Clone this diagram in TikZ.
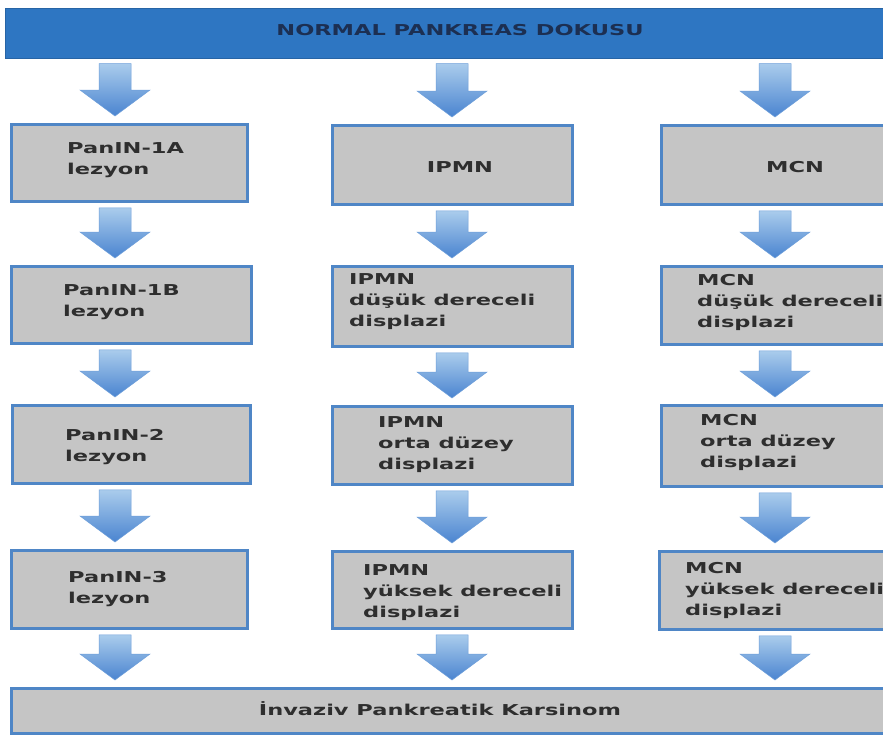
\documentclass[tikz,border=0pt]{standalone}
\usepackage{fontspec}
\usetikzlibrary{calc}
\newfontfamily\lblfont{DejaVu Sans}[FakeStretch=1.5]
\definecolor{barblue}{HTML}{2E76C2}
\definecolor{boxgray}{HTML}{C5C5C5}
\definecolor{boxedge}{HTML}{4F86C6}
\definecolor{arrtop}{HTML}{AACCEC}
\definecolor{arrbot}{HTML}{4A84D0}
\definecolor{arredge}{HTML}{6E9FDA}
\definecolor{titlecol}{HTML}{1C2F52}
\definecolor{txtcol}{HTML}{2E2E2E}
\tikzset{
  box/.style={draw=boxedge, line width=2.8pt, fill=boxgray, inner sep=0pt, anchor=north west},
  topbar/.style={fill=barblue, draw=barblue!85!black, line width=0.6pt, inner sep=0pt, anchor=north west},
  lbl/.style={font=\lblfont\bfseries\fontsize{15}{21}\selectfont, text=txtcol, inner sep=0pt, align=left, anchor=north west},
  ttl/.style={font=\lblfont\bfseries\fontsize{15}{21}\selectfont, text=titlecol, inner sep=0pt, anchor=base},
  flow/.style={top color=arrtop, bottom color=arrbot, draw=arredge, line width=0.5pt}
}
% #1 = x of arrow axis, #2 = node above, #3 = node below
\newcommand\flowarrow[3]{%
  \path let \p1=(#2.south), \p2=(#3.north) in
    coordinate (t) at (#1pt,\y1-5pt)
    coordinate (h) at (#1pt,\y2+7pt);
  \shade[flow] let \p1=(t), \p2=(h) in
    (\x1-16pt,\y1) -- (\x1+16pt,\y1) -- (\x1+16pt,\y2+26pt) -- (\x1+35pt,\y2+26pt)
    -- (\x1,\y2) -- (\x1-35pt,\y2+26pt) -- (\x1-16pt,\y2+26pt) -- cycle;
}
\begin{document}
\begin{tikzpicture}[x=1pt,y=-1pt]
\useasboundingbox (0,0) rectangle (883,734);
\clip (0,0) rectangle (883,734);
\fill[white] (0,0) rectangle (883,734);

% top bar
\node[topbar, minimum width=890, minimum height=50] (top) at (5,8) {};
\node[ttl] (toptxt) at (460,35) {NORMAL PANKREAS DOKUSU};

% column 1
\node[box, minimum width=236, minimum height=77] (a1) at (10,123) {};
\node[box, minimum width=240, minimum height=77] (a2) at (10,265) {};
\node[box, minimum width=238, minimum height=78] (a3) at (11,404) {};
\node[box, minimum width=236, minimum height=78] (a4) at (10,549) {};
% column 2
\node[box, minimum width=240, minimum height=79] (b1) at (331,124) {};
\node[box, minimum width=240, minimum height=80] (b2) at (331,265) {};
\node[box, minimum width=240, minimum height=78] (b3) at (331,405) {};
\node[box, minimum width=240, minimum height=77] (b4) at (331,550) {};
% column 3
\node[box, minimum width=240, minimum height=79] (c1) at (660,124) {};
\node[box, minimum width=240, minimum height=78] (c2) at (660,265) {};
\node[box, minimum width=240, minimum height=81] (c3) at (660,404) {};
\node[box, minimum width=240, minimum height=78] (c4) at (658,550) {};
% bottom bar
\node[box, minimum width=900, minimum height=45] (bot) at (10,687) {};

% texts
\node[lbl] (a1t) at (67,142) {PanIN-1A\\lezyon};
\node[lbl] (a2t) at (63,284) {PanIN-1B\\lezyon};
\node[lbl] (a3t) at (65,429) {PanIN-2\\lezyon};
\node[lbl] (a4t) at (68,571) {PanIN-3\\lezyon};
\node[ttl, text=txtcol] (b1t) at (460,172) {IPMN};
\node[lbl] (b2t) at (349,273) {IPMN\\düşük dereceli\\displazi};
\node[lbl] (b3t) at (378,416) {IPMN\\orta düzey\\displazi};
\node[lbl] (b4t) at (363,564) {IPMN\\yüksek dereceli\\displazi};
\node[ttl, text=txtcol] (c1t) at (795,172) {MCN};
\node[lbl] (c2t) at (697,274) {MCN\\düşük dereceli\\displazi};
\node[lbl] (c3t) at (700,414) {MCN\\orta düzey\\displazi};
\node[lbl] (c4t) at (685,562) {MCN\\yüksek dereceli\\displazi};
\node[ttl, text=txtcol] (bott) at (440,715) {İnvaziv Pankreatik Karsinom};

% arrows
\flowarrow{115}{top}{a1}
\flowarrow{452}{top}{b1}
\flowarrow{775}{top}{c1}
\flowarrow{115}{a1}{a2}
\flowarrow{452}{b1}{b2}
\flowarrow{775}{c1}{c2}
\flowarrow{115}{a2}{a3}
\flowarrow{452}{b2}{b3}
\flowarrow{775}{c2}{c3}
\flowarrow{115}{a3}{a4}
\flowarrow{452}{b3}{b4}
\flowarrow{775}{c3}{c4}
\flowarrow{115}{a4}{bot}
\flowarrow{452}{b4}{bot}
\flowarrow{775}{c4}{bot}
\end{tikzpicture}
\end{document}
